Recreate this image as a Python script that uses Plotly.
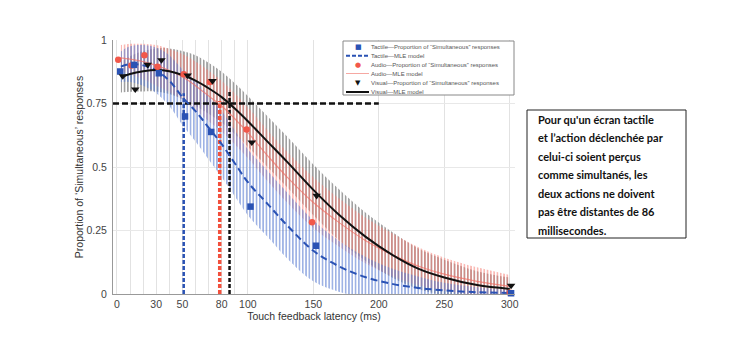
import plotly.graph_objects as go

# ---------------- data ----------------
tactile_x = [2.5, 13, 32, 52, 72, 102, 152, 301]
tactile_y = [0.876, 0.902, 0.869, 0.699, 0.638, 0.344, 0.19, 0.003]

audio_x = [1, 11, 21, 31, 51, 71, 99, 149, 300]
audio_y = [0.922, 0.9, 0.94, 0.895, 0.865, 0.835, 0.648, 0.282, 0.005]

visual_x = [4.5, 14, 23.5, 34, 54, 73, 103, 152.5, 301]
visual_y = [0.858, 0.806, 0.903, 0.921, 0.861, 0.839, 0.597, 0.387, 0.033]

model_x = [3, 10, 20, 30, 40, 50, 60, 70, 80, 90, 100, 115, 130, 150, 170, 190, 210, 230, 250, 275, 300]
tactile_model = [0.895, 0.905, 0.9, 0.88, 0.84, 0.775, 0.72, 0.655, 0.59, 0.515, 0.44, 0.355, 0.27, 0.17, 0.108, 0.066, 0.04, 0.024, 0.014, 0.007, 0.004]
audio_model = [0.93, 0.925, 0.915, 0.9, 0.88, 0.855, 0.82, 0.78, 0.74, 0.69, 0.635, 0.545, 0.46, 0.36, 0.28, 0.21, 0.155, 0.11, 0.078, 0.05, 0.03]
visual_model = [0.853, 0.866, 0.877, 0.882, 0.877, 0.862, 0.84, 0.81, 0.775, 0.73, 0.68, 0.6, 0.52, 0.41, 0.31, 0.225, 0.155, 0.10, 0.065, 0.035, 0.02]

tactile_err = [0.06, 0.07, 0.08, 0.09, 0.1, 0.11, 0.12, 0.125, 0.13, 0.13, 0.13, 0.13, 0.13, 0.12, 0.1, 0.08, 0.06, 0.045, 0.03, 0.02, 0.012]
audio_err = [0.05, 0.06, 0.07, 0.08, 0.085, 0.09, 0.095, 0.1, 0.1, 0.1, 0.1, 0.1, 0.1, 0.1, 0.095, 0.09, 0.085, 0.075, 0.065, 0.055, 0.045]
visual_err = [0.06, 0.07, 0.08, 0.085, 0.09, 0.095, 0.1, 0.1, 0.1, 0.1, 0.1, 0.1, 0.1, 0.1, 0.1, 0.095, 0.09, 0.08, 0.07, 0.055, 0.045]

criterion = 0.75
criterion_x_end = 200
threshold_x = [51, 78.5, 86]          # tactile, audio, visual
threshold_top = [0.79, 0.76, 0.80]

x_tickvals = [0, 10, 20, 30, 40, 50, 60, 70, 80, 90, 100, 150, 200, 250, 300]
x_ticktext = ["0", "", "", "30", "", "50", "", "", "80", "", "100", "150", "200", "250", "300"]
y_tickvals = [0, 0.25, 0.5, 0.75, 1]
y_ticktext = ["0", "0.25", "0.5", "0.75", "1"]

legend_labels = [
    "Tactile\u2014Proportion of \u201cSimultaneous\u201d responses",
    "Tactile\u2014MLE model",
    "Audio\u2014Proportion of \u201cSimultaneous\u201d responses",
    "Audio\u2014MLE model",
    "Visual\u2014Proportion of \u201cSimultaneous\u201d responses",
    "Visual\u2014MLE model",
]

note_lines = [
    "Pour qu'un écran tactile",
    "et l\u2019action déclenchée par",
    "celui-ci soient perçus",
    "comme simultanés, les",
    "deux actions ne doivent",
    "pas être distantes de 86",
    "millisecondes.",
]

# ---------------- styles ----------------
BLUE = "#2a52b4"
RED = "#f2584a"
BLACK = "#111111"

W, H = 737, 364
ML, MR, MT, MB = 113, 222, 40, 70
PW, PH = W - ML - MR, H - MT - MB


def px(xp):
    return (xp - ML) / PW


def py(yp):
    return (H - MB - yp) / PH


fig = go.Figure()


def band(model, err, color, size, solidity):
    lo = [m - e for m, e in zip(model, err)]
    hi = [m + e for m, e in zip(model, err)]
    fig.add_trace(go.Scatter(x=model_x, y=lo, mode="lines", line=dict(width=0, shape="spline"),
                             hoverinfo="skip", showlegend=False))
    fig.add_trace(go.Scatter(x=model_x, y=hi, mode="lines", line=dict(width=0, shape="spline"),
                             fill="tonexty", fillcolor="rgba(0,0,0,0)",
                             fillpattern=dict(shape="|", fgcolor=color, bgcolor="rgba(0,0,0,0)",
                                              size=size, solidity=solidity, fillmode="replace"),
                             hoverinfo="skip", showlegend=False))


band(visual_model, visual_err, "rgba(95,95,95,0.75)", 3.3, 0.4)
band(audio_model, audio_err, "rgba(245,125,115,0.6)", 3.3, 0.45)
band(tactile_model, tactile_err, "rgba(90,125,210,0.7)", 3.3, 0.42)

# criterion and thresholds
fig.add_trace(go.Scatter(x=[-3, criterion_x_end], y=[criterion, criterion], mode="lines",
                         line=dict(color=BLACK, width=2.5, dash="6px,3px"), showlegend=False))
thr_colors = [BLUE, "#f2503c", BLACK]
thr_widths = [2.5, 3.5, 2.5]
for tx, tt, c, w in zip(threshold_x, threshold_top, thr_colors, thr_widths):
    fig.add_trace(go.Scatter(x=[tx, tx], y=[0, tt], mode="lines",
                             line=dict(color=c, width=w, dash="4px,2px"), showlegend=False))

# models
fig.add_trace(go.Scatter(x=model_x, y=audio_model, mode="lines",
                         line=dict(color="rgba(240,110,100,0.7)", width=1.2, shape="spline"), showlegend=False))
fig.add_trace(go.Scatter(x=model_x, y=tactile_model, mode="lines",
                         line=dict(color=BLUE, width=2, dash="7px,4px", shape="spline"), showlegend=False))
fig.add_trace(go.Scatter(x=model_x, y=visual_model, mode="lines",
                         line=dict(color=BLACK, width=2, shape="spline"), showlegend=False))

# data points
fig.add_trace(go.Scatter(x=audio_x, y=audio_y, mode="markers", cliponaxis=False,
                         marker=dict(symbol="circle", size=6.5, color=RED), showlegend=False))
fig.add_trace(go.Scatter(x=tactile_x, y=tactile_y, mode="markers", cliponaxis=False,
                         marker=dict(symbol="square", size=6.5, color=BLUE), showlegend=False))
fig.add_trace(go.Scatter(x=visual_x, y=visual_y, mode="markers", cliponaxis=False,
                         marker=dict(symbol="triangle-down", size=7.5, color=BLACK), showlegend=False))

shapes = []
annotations = []

# legend box
shapes.append(dict(type="rect", xref="paper", yref="paper", x0=px(343), x1=px(514), y0=py(95), y1=py(41),
                   line=dict(color="#888", width=1), fillcolor="white", layer="above"))
row_y = [46.7, 55.7, 65, 73.5, 83, 92]
sym = [("\u25a0", BLUE, 7), None, ("\u25cf", RED, 7), None, ("\u25bc", BLACK, 7), None]
line_styles = [None, dict(color=BLUE, width=2, dash="4px,2px"), None,
               dict(color="rgba(240,110,100,0.6)", width=1), None, dict(color=BLACK, width=2)]
for i, lab in enumerate(legend_labels):
    yy = py(row_y[i])
    if sym[i]:
        s, c, fs = sym[i]
        annotations.append(dict(xref="paper", yref="paper", x=px(358), y=yy, text=s, showarrow=False,
                                font=dict(color=c, size=fs, family="DejaVu Sans"),
                                xanchor="center", yanchor="middle"))
    if line_styles[i]:
        shapes.append(dict(type="line", xref="paper", yref="paper", x0=px(346), x1=px(369), y0=yy, y1=yy,
                           line=line_styles[i], layer="above"))
    annotations.append(dict(xref="paper", yref="paper", x=px(369), y=yy, text=lab, showarrow=False,
                            font=dict(color="#555", size=6, family="Liberation Sans"),
                            xanchor="left", yanchor="middle"))

# note box
shapes.append(dict(type="rect", xref="paper", yref="paper", x0=px(527), x1=px(686), y0=py(238), y1=py(110),
                   line=dict(color="#222", width=1), fillcolor="rgba(0,0,0,0)"))
for i, t in enumerate(note_lines):
    annotations.append(dict(xref="paper", yref="paper", x=px(536), y=py(119 + i * 18.5), text="<b>" + t + "</b>",
                            showarrow=False, xanchor="left", yanchor="middle",
                            font=dict(color="#111", size=11, family="Lato")))

fig.update_layout(
    width=W, height=H,
    margin=dict(l=ML, r=MR, t=MT, b=MB, autoexpand=False),
    paper_bgcolor="white", plot_bgcolor="white",
    shapes=shapes, annotations=annotations,
    font=dict(family="Liberation Sans", color="#444"),
    xaxis=dict(range=[-3, 304], tickvals=x_tickvals, ticktext=x_ticktext, showgrid=True,
               gridcolor="#e2e2e2", gridwidth=1, zeroline=False, showline=True, linecolor="#999",
               ticks="", tickfont=dict(size=10.5, color="#444"), automargin=False,
               title=dict(text="Touch feedback latency (ms)", font=dict(size=10.5, color="#333"), standoff=0)),
    yaxis=dict(range=[0, 1], tickvals=y_tickvals, ticktext=y_ticktext, showgrid=True,
               gridcolor="#e8e8e8", zeroline=False, showline=True, linecolor="#999",
               ticks="", tickfont=dict(size=10.5, color="#444"), automargin=False, ticklabelstandoff=3,
               title=dict(text="Proportion of \u2018Simultaneous\u2019 responses",
                          font=dict(size=10.5, color="#333"), standoff=0)),
)

fig.write_html("out.html", config={"displayModeBar": False},
               post_script="document.body.style.margin='0px';")
